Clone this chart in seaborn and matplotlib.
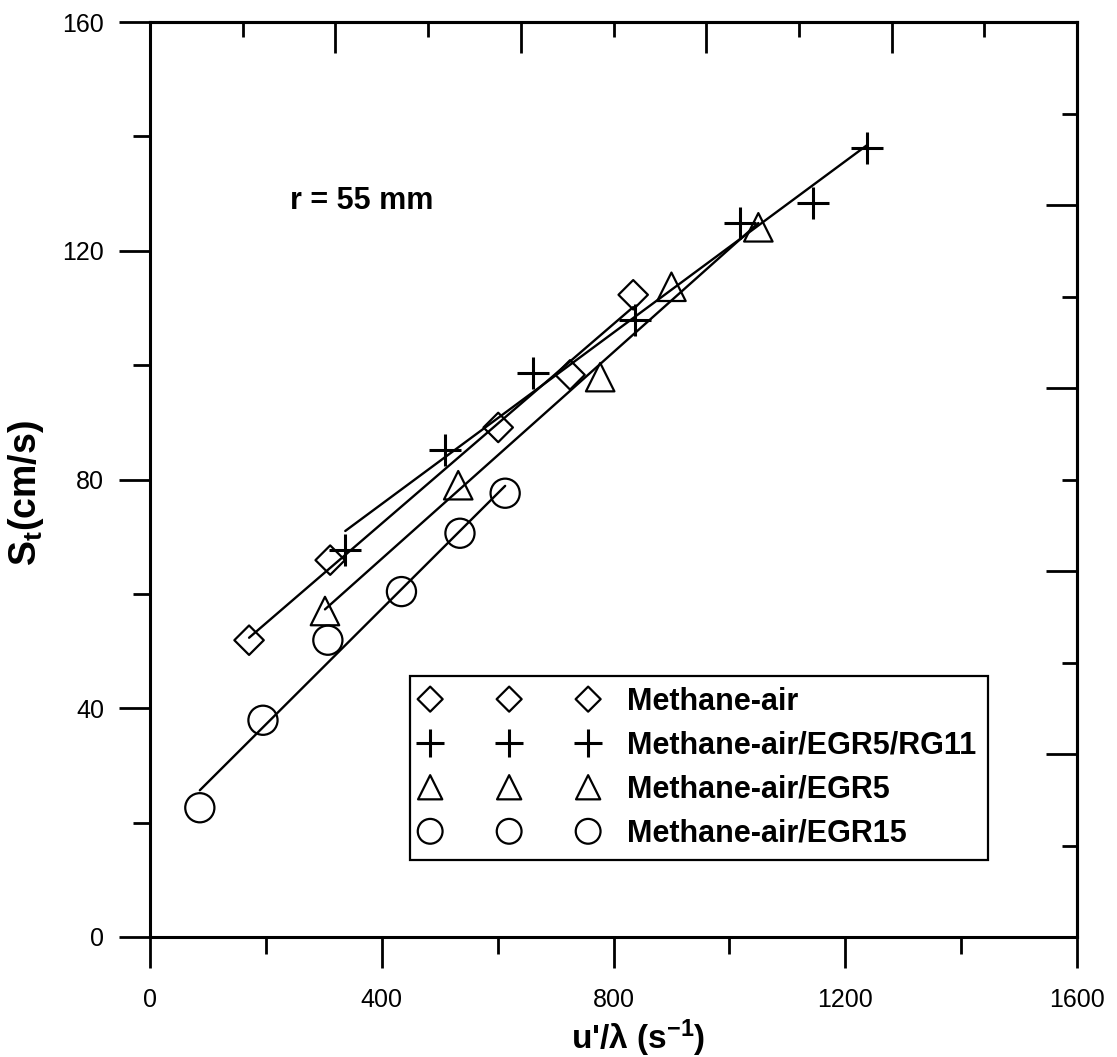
import numpy as np
import matplotlib
matplotlib.use("Agg")
import matplotlib.pyplot as plt
import seaborn as sns

# ---- data ----
ma_x = [171, 311, 601, 725, 834]
ma_y = [51.9, 65.9, 89.1, 98.3, 112.3]
rg_x = [337, 509, 661, 837, 1018, 1144, 1237]
rg_y = [67.7, 85.2, 98.6, 107.9, 124.8, 128.3, 138.0]
e5_x = [302, 532, 777, 900, 1050]
e5_y = [57.0, 79.0, 97.9, 113.7, 124.1]
e15_x = [86, 195, 307, 434, 535, 613]
e15_y = [22.6, 37.9, 51.9, 60.4, 70.6, 77.6]
labels = ["Methane-air", "Methane-air/EGR5/RG11", "Methane-air/EGR5", "Methane-air/EGR15"]

x_major = [0, 400, 800, 1200, 1600]
x_minor = [200, 600, 1000, 1400]
y_major = [0, 40, 80, 120, 160]
y_minor = [20, 60, 100, 140]
top_major = [320, 640, 960, 1280]
top_minor = [160, 480, 800, 1120, 1440]
right_major = [32, 64, 96, 128]
right_minor = [16, 48, 80, 112, 144]

sns.set_style("white")
plt.rcParams["font.family"] = ["Liberation Sans", "DejaVu Sans"]
plt.rcParams["mathtext.fontset"] = "custom"
plt.rcParams["mathtext.rm"] = "Liberation Sans:bold"
plt.rcParams["mathtext.bf"] = "Liberation Sans:bold"
plt.rcParams["mathtext.it"] = "Liberation Sans:bold"
for k in ["text.color", "axes.labelcolor", "xtick.color", "ytick.color", "axes.edgecolor"]:
    plt.rcParams[k] = "black"

W, H = 1117, 1057
fig = plt.figure(figsize=(W / 100, H / 100), dpi=100)
ax = fig.add_axes([150 / W, 1 - 937 / H, 927 / W, 915 / H])

series = [(ma_x, ma_y), (rg_x, rg_y), (e5_x, e5_y), (e15_x, e15_y)]
styles = [
    dict(marker="D", s=225, facecolors="none", edgecolors="black", linewidths=1.6, alpha=1),
    dict(marker="+", s=560, color="black", linewidths=2.2, alpha=1),
    dict(marker="^", s=420, facecolors="none", edgecolors="black", linewidths=1.6, alpha=1),
    dict(marker="o", s=441, facecolors="none", edgecolors="black", linewidths=1.6, alpha=1),
]
for (xs, ys), st, lab in zip(series, styles, labels):
    sns.regplot(x=np.array(xs, float), y=np.array(ys, float), ax=ax, ci=None,
                truncate=True, color="black", label=lab, marker=st["marker"],
                scatter_kws={k: v for k, v in st.items() if k != "marker"},
                line_kws=dict(color="black", lw=1.7))

ax.set_xlim(0, 1600)
ax.set_ylim(0, 160)
ax.set_xticks(x_major)
ax.set_xticks(x_minor, minor=True)
ax.set_yticks(y_major)
ax.set_yticks(y_minor, minor=True)
ax.set_xticklabels([str(v) for v in x_major])
ax.set_yticklabels([str(v) for v in y_major])
ax.tick_params(which="both", bottom=True, left=True, top=False, right=False,
               direction="out", width=2, color="black", labelcolor="black")
ax.tick_params(which="major", length=22, labelsize=18)
ax.tick_params(which="minor", length=12)
ax.tick_params(axis="x", which="major", pad=15)
ax.tick_params(axis="y", which="major", pad=11)
for sp in ax.spines.values():
    sp.set_visible(True)
    sp.set_linewidth(2.2)
    sp.set_color("black")

top = ax.secondary_xaxis("top")
top.set_xticks(top_major)
top.set_xticks(top_minor, minor=True)
top.set_xticklabels([])
top.tick_params(which="both", top=True, bottom=False, direction="in", width=2,
                color="black", labeltop=False)
top.tick_params(which="major", length=22)
top.tick_params(which="minor", length=11)
top.spines["top"].set_linewidth(2.2)

right = ax.secondary_yaxis("right")
right.set_yticks(right_major)
right.set_yticks(right_minor, minor=True)
right.set_yticklabels([])
right.tick_params(which="both", right=True, left=False, direction="in", width=2,
                  color="black", labelright=False)
right.tick_params(which="major", length=22)
right.tick_params(which="minor", length=11)
right.spines["right"].set_linewidth(2.2)

ax.text(242, 128.7, "r = 55 mm", fontsize=22, fontweight="bold", ha="left", va="center")

ax.set_xlabel(r"u'/$\mathrm{\lambda}$ (s$^{\mathrm{-1}}$)", fontsize=24, fontweight="bold")
ax.xaxis.set_label_coords(0.527, -0.088)
ax.set_ylabel(r"S$_{\mathrm{t}}$(cm/s)", fontsize=27, fontweight="bold")
ax.yaxis.set_label_coords(-0.112, 0.485)

leg = ax.legend(loc="lower left", bbox_to_anchor=((410 - 150) / 927, (937 - 860) / 915),
                borderaxespad=0, scatterpoints=3, scatteryoffsets=[0.5],
                handlelength=5.77, handletextpad=0.98, borderpad=0.36, labelspacing=0.46,
                markerscale=0.85, fancybox=False, frameon=True, edgecolor="black",
                framealpha=1, prop=dict(weight="bold", size=22))
leg.get_frame().set_linewidth(1.6)

fig.savefig("out.png", dpi=100, facecolor="white")
